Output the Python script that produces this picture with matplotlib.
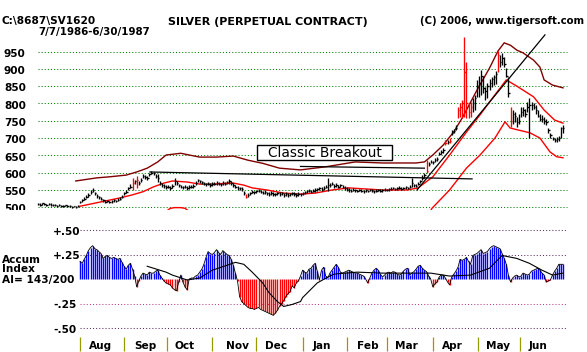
import matplotlib
matplotlib.use("Agg")
import matplotlib.pyplot as plt
from matplotlib.patches import Rectangle

# ---------------- data ----------------
close = [510, 508, 511, 509, 507, 509, 508, 506, 507, 505,
         507, 505, 504, 506, 503, 504, 502, 503, 501, 503,
         515, 520, 525, 530, 535, 545, 550, 540, 532, 530,
         525, 520, 516, 518, 515, 517, 520, 518, 522, 525,
         530, 540, 545, 555, 560, 570, 575, 580, 570, 580,
         590, 588, 585, 595, 600, 598, 590, 585, 570, 565,
         562, 558, 560, 556, 562, 575, 570, 563, 560, 558,
         560, 556, 558, 560, 562, 570, 578, 575, 572, 568,
         566, 568, 565, 567, 568, 570, 568, 566, 570, 568,
         572, 575, 570, 565, 560, 556, 555, 553, 540, 530,
         535, 540, 545, 543, 546, 548, 545, 542, 544, 540,
         538, 541, 539, 537, 540, 538, 540, 536, 538, 535,
         537, 540, 538, 536, 538, 537, 540, 543, 546, 548,
         545, 548, 550, 552, 555, 553, 556, 560, 565, 565,
         568, 562, 565, 560, 563, 560, 556, 553, 550, 548,
         551, 549, 547, 550, 548, 546, 549, 547, 550, 548,
         546, 548, 550, 548, 549, 551, 550, 552, 554, 556,
         553, 555, 557, 554, 556, 558, 556, 560, 570, 563,
         562, 568, 575, 585, 592, 605, 625, 632, 630, 636,
         640, 655, 660, 665, 685, 688, 692, 715, 720, 730,
         780, 790, 800, 891, 800, 775, 790, 800, 815, 850,
         860, 880, 845, 835, 850, 860, 870, 875, 885, 940,
         920, 930, 915, 880, 830, 750, 770, 765, 745, 750,
         775, 780, 770, 790, 795, 795, 790, 780, 765, 755,
         755, 750, 745, 722, 708, 698, 694, 697, 700, 728, 730]
high = [513, 511, 513, 512, 510, 511, 511, 509, 510, 508,
        510, 508, 507, 508, 506, 507, 505, 505, 504, 506,
        519, 524, 530, 536, 540, 550, 557, 545, 537, 534,
        530, 524, 520, 522, 519, 521, 524, 522, 526, 529,
        535, 545, 551, 560, 566, 586, 580, 589, 577, 586,
        595, 593, 590, 600, 604, 603, 595, 596, 576, 570,
        567, 563, 564, 561, 567, 586, 575, 568, 565, 562,
        565, 561, 563, 565, 567, 575, 583, 580, 576, 573,
        571, 573, 570, 572, 573, 575, 573, 571, 575, 573,
        577, 582, 575, 570, 565, 561, 560, 558, 546, 538,
        540, 545, 550, 548, 551, 553, 550, 547, 549, 545,
        543, 546, 544, 542, 545, 543, 545, 541, 543, 540,
        542, 545, 543, 541, 543, 542, 545, 548, 551, 553,
        550, 553, 555, 557, 560, 558, 561, 565, 585, 570,
        573, 567, 570, 565, 568, 565, 561, 558, 555, 553,
        555, 553, 551, 554, 552, 550, 553, 551, 554, 552,
        550, 552, 554, 552, 553, 555, 554, 556, 558, 560,
        557, 559, 561, 558, 560, 562, 560, 564, 585, 567,
        566, 573, 580, 592, 598, 637, 630, 637, 635, 641,
        645, 660, 665, 672, 694, 694, 700, 723, 726, 737,
        790, 800, 810, 992, 920, 800, 805, 815, 824, 868,
        880, 897, 880, 847, 859, 870, 876, 882, 895, 952,
        940, 945, 935, 902, 876, 790, 780, 775, 760, 770,
        790, 790, 785, 805, 815, 805, 800, 795, 780, 770,
        767, 760, 755, 728, 715, 703, 700, 702, 705, 732, 738]
low = [507, 505, 508, 506, 504, 506, 505, 503, 504, 502,
       504, 502, 501, 503, 500, 501, 499, 500, 498, 500,
       511, 515, 520, 526, 530, 538, 543, 535, 527, 525,
       521, 516, 512, 514, 511, 513, 516, 514, 518, 521,
       526, 535, 540, 550, 555, 550, 568, 556, 565, 574,
       584, 582, 579, 589, 595, 592, 584, 574, 564, 560,
       557, 553, 555, 551, 557, 565, 565, 558, 555, 553,
       555, 551, 553, 555, 557, 565, 572, 570, 567, 563,
       561, 563, 560, 562, 563, 565, 563, 561, 565, 563,
       567, 568, 565, 560, 555, 551, 550, 548, 535, 526,
       530, 535, 540, 538, 541, 543, 540, 537, 539, 535,
       533, 536, 534, 532, 535, 533, 535, 531, 533, 530,
       532, 535, 533, 531, 533, 532, 535, 538, 541, 543,
       540, 543, 545, 547, 550, 548, 551, 555, 546, 560,
       563, 557, 560, 555, 558, 555, 551, 548, 545, 543,
       547, 545, 543, 546, 544, 542, 545, 543, 546, 544,
       542, 544, 546, 544, 545, 547, 546, 548, 550, 552,
       549, 551, 553, 550, 552, 554, 552, 556, 558, 559,
       558, 563, 570, 578, 586, 600, 620, 627, 625, 631,
       635, 650, 655, 658, 680, 684, 686, 708, 715, 723,
       758, 760, 758, 760, 758, 758, 760, 775, 781, 819,
       820, 824, 830, 810, 816, 840, 847, 853, 855, 891,
       905, 911, 905, 876, 820, 732, 740, 745, 732, 740,
       760, 765, 760, 775, 700, 780, 785, 770, 760, 750,
       745, 742, 738, 715, 700, 693, 688, 690, 692, 700, 715]
red_days = [45, 47, 99, 185, 194, 196, 200, 201, 202, 203, 204, 205, 206, 219, 225]

ub_days = [18, 28, 34, 42, 47, 52, 57, 61, 68, 72, 77, 85, 93, 100, 107, 115, 125,
           137, 151, 164, 180, 184, 188, 193, 198, 202, 209, 215, 219, 222, 225,
           228, 231, 236, 239, 241, 245, 250]
ub_vals = [576, 585, 588, 593, 602, 613, 631, 651, 656, 651, 645, 645, 648, 636, 627,
           613, 608, 617, 631, 628, 628, 631, 651, 680, 718, 758, 838, 902, 951, 975,
           968, 954, 946, 925, 905, 868, 853, 845]
ma_days = [20, 29.5, 39, 45, 50, 55, 60, 64, 71, 77, 83, 93, 98, 102, 109, 117, 125,
           132, 140, 148, 164, 176, 181, 188, 196, 204, 210.5, 215, 223, 228, 236,
           241, 246, 250]
ma_vals = [503, 515, 527, 536, 545, 559, 570, 576, 573, 567, 567, 570, 564, 556, 550,
           541, 538, 541, 550, 556, 550, 550, 556, 588, 651, 717, 767, 804, 868, 850,
           819, 781, 752, 743]
lb1_days = [61, 63, 65, 68, 70, 72]
lb1_vals = [488, 497, 499, 499, 497, 488]
lb2_days = [186, 187.6, 196, 204, 210.5, 217.6, 222.4, 224.8, 234.3, 239, 243.8, 247, 250]
lb2_vals = [480, 497, 550, 613, 651, 700, 747, 729, 715, 700, 660, 646, 643]
lineA_days = [53.3, 206.7]
lineA_vals = [602, 582]
lineB_days = [125, 184]
lineB_vals = [618, 613]
trend_days = [180.5, 241.4]
trend_vals = [550, 998]

accum_start = 20
accum = [0.18, 0.16, 0.20, 0.24, 0.29, 0.32, 0.34, 0.31, 0.30, 0.28,
         0.26, 0.21, 0.23, 0.24, 0.22, 0.21, 0.22, 0.21, 0.20, 0.21,
         0.17, 0.13, 0.10, 0.14, 0.16, 0.10, 0.03, -0.08, -0.02, 0.03,
         0.06, 0.05, 0.04, 0.07, 0.06, 0.06, 0.08, 0.09, 0.04, 0.01,
         -0.02, -0.04, -0.05, -0.06, -0.09, -0.11, -0.12, -0.03, 0.04, -0.03,
         -0.08, -0.11, 0.00, 0.01, 0.01, 0.03, 0.04, 0.07, 0.10, 0.15,
         0.22, 0.28, 0.26, 0.25, 0.27, 0.30, 0.27, 0.25, 0.29, 0.27,
         0.25, 0.24, 0.20, 0.14, 0.06, -0.02, -0.18, -0.23, -0.25, -0.27,
         -0.29, -0.30, -0.30, -0.31, -0.30, -0.29, -0.31, -0.32, -0.33, -0.34,
         -0.35, -0.36, -0.37, -0.35, -0.32, -0.28, -0.25, -0.22, -0.18, -0.15,
         -0.13, -0.07, -0.09, -0.04, -0.02, 0.03, 0.09, 0.07, 0.06, 0.10,
         0.11, 0.14, 0.16, 0.08, -0.01, 0.09, 0.12, 0.03, 0.01, 0.06,
         0.09, 0.12, 0.15, 0.12, 0.07, 0.06, 0.07, 0.08, 0.09, 0.08,
         0.07, 0.06, 0.06, 0.05, 0.04, 0.03, 0.00, -0.04, 0.01, 0.06,
         0.09, 0.11, 0.09, 0.05, 0.02, 0.04, 0.06, 0.07, 0.06, 0.075,
         0.07, 0.05, 0.04, 0.05, 0.08, 0.10, 0.11, 0.04, 0.06, 0.075,
         0.10, 0.13, 0.14, 0.11, 0.09, 0.075, 0.03, 0.00, -0.08, -0.05,
         -0.03, 0.02, 0.04, 0.04, 0.01, -0.03, -0.06, 0.02, 0.05, 0.08,
         0.12, 0.20, 0.19, 0.20, 0.22, 0.18, 0.15, 0.24, 0.25, 0.26,
         0.28, 0.30, 0.26, 0.27, 0.28, 0.31, 0.33, 0.34, 0.33, 0.32,
         0.31, 0.26, 0.21, 0.15, 0.04, -0.03, 0.01, 0.03, 0.04, 0.02,
         0.03, 0.06, 0.05, 0.04, 0.05, 0.08, 0.09, 0.10, 0.11, 0.09,
         0.06, 0.04, -0.03, -0.02, -0.01, 0.04, 0.08, 0.11, 0.15, 0.15, 0.15]
acma_days = [52, 61, 64, 71, 77, 83, 90, 94, 98, 102, 107, 110, 114, 117, 121, 125, 126,
             133, 138, 141, 152, 164, 187, 196, 206, 215, 221, 228, 234, 240, 245, 250]
acma_vals = [0.13, 0.07, 0.04, -0.01, 0.01, 0.09, 0.14, 0.17, 0.15, 0.07, -0.04, -0.14,
             -0.23, -0.28, -0.26, -0.23, -0.19, -0.04, 0.02, 0.05, 0.07, 0.06, 0.06, 0.03,
             0.04, 0.11, 0.24, 0.21, 0.16, 0.09, 0.04, 0.06]

price_ticks = [950, 900, 850, 800, 750, 700, 650, 600, 550, 500]
ai_ticks = [0.50, 0.25, -0.25, -0.50]
ai_labels = ['+.50', '+.25', '-.25', '-.50']
months = ['Aug', 'Sep', 'Oct', 'Nov', 'Dec', 'Jan', 'Feb', 'Mar', 'Apr', 'May', 'Jun']
month_tick_days = [20, 41, 61.4, 83, 104, 126, 147, 166, 188, 209.5, 229.5]
month_label_days = [29.8, 51, 69.8, 95, 113.3, 135, 157, 175.5, 197.4, 219.3, 238.3]

# ---------------- layout helpers ----------------
W, H = 587, 352
X0, DX = 38.0, 2.1          # pixel of day 0, pixels per trading day


def day_of(px):
    return (px - X0) / DX


def price_at(py):
    return 950 - (py - 51.5) / 0.3462


def ai_at(py):
    return (279 - py) / 98.0


BOLD = dict(family='DejaVu Sans', weight='bold', color='black')

fig = plt.figure(figsize=(W / 100, H / 100), dpi=100)
fig.patch.set_facecolor('white')


def ftext(px, py, s, size=7.6, **kw):
    d = dict(BOLD)
    d.update(kw)
    fig.text(px / W, 1 - py / H, s, fontsize=size, va='baseline', **d)


# ---------------- top price panel ----------------
ax1 = fig.add_axes([0, 1 - 210 / H, 1, (210 - 32) / H])
ax1.set_xlim(day_of(0), day_of(W))
ax1.set_ylim(price_at(210), price_at(32))
ax1.axis('off')

ax1.hlines(price_ticks, 0, day_of(567), colors='#008000', linestyles=(0, (1, 2)), lw=0.75)
for p in price_ticks:
    ax1.text(day_of(4), p - 15, str(p), fontsize=7.6, va='baseline', ha='left',
             clip_on=True, **BOLD)

ax1.plot(lb1_days, lb1_vals, color='#ff0000', lw=1.0)
ax1.plot(lb2_days, lb2_vals, color='#ff0000', lw=1.0)
ax1.plot(ub_days, ub_vals, color='#800000', lw=1.0)
ax1.plot(ma_days, ma_vals, color='#ff0000', lw=1.0)
ax1.plot(lineA_days, lineA_vals, color='black', lw=0.9)
ax1.plot(lineB_days, lineB_vals, color='black', lw=0.9)
ax1.plot(trend_days, trend_vals, color='black', lw=0.9)

days = list(range(len(close)))
cols = ['#ff0000' if d in red_days else 'black' for d in days]
ax1.vlines(days, low, high, colors=cols, lw=0.95)
ax1.hlines(close, [d for d in days], [d + 0.7 for d in days], colors=cols, lw=0.95)

# annotation box
bx0, bx1 = day_of(257), day_of(392)
by0, by1 = price_at(160), price_at(145)
ax1.add_patch(Rectangle((bx0, by0), bx1 - bx0, by1 - by0, facecolor='white',
                        edgecolor='black', lw=1.0, zorder=5))
ax1.text((bx0 + bx1) / 2, price_at(157.3), 'Classic Breakout', ha='center', va='baseline',
         fontsize=9.9, family='DejaVu Sans', color='black', zorder=6)

# ---------------- accumulation panel ----------------
ax2 = fig.add_axes([0, 1 - 337 / H, 1, (337 - 215) / H])
ax2.set_xlim(day_of(0), day_of(W))
ax2.set_ylim(ai_at(337), ai_at(215))
ax2.axis('off')

grid_cols = ['#603060', '#603060', '#c04080', '#603060']
for v, c in zip(ai_ticks, grid_cols):
    ax2.hlines(v, day_of(80), day_of(567), colors=c, linestyles=(0, (1, 2)), lw=0.75)
for v, s in zip(ai_ticks, ai_labels):
    ax2.text(day_of(53), v - 4.6 / 98, s, fontsize=7.6, ha='left', va='baseline', **BOLD)

adays = [accum_start + i for i in range(len(accum))]
acols = ['#0000ff' if v >= 0 else '#ff0000' for v in accum]
ax2.vlines(adays, 0, accum, colors=acols, lw=1.0)
ax2.plot(adays, accum, color='black', lw=0.6)
ax2.plot(acma_days, acma_vals, color='black', lw=0.8)

ftext(2, 263.3, 'Accum')
ftext(2, 272.3, 'Index')
ftext(2, 283.3, 'AI= 143/200')

# ---------------- month strip ----------------
ax3 = fig.add_axes([0, 0, 1, 16 / H])
ax3.set_xlim(day_of(0), day_of(W))
ax3.set_ylim(352, 336)
ax3.axis('off')
ax3.vlines(month_tick_days, 337, 351, colors='#999900', lw=0.9)
for d, m in zip(month_label_days, months):
    ax3.text(d, 349.3, m, ha='center', va='baseline', fontsize=7.6, **BOLD)

# ---------------- titles ----------------
ftext(2, 24, 'C:\\8687\\SV1620')
ftext(38, 35.5, '7/7/1986-6/30/1987', size=7.4)
ftext(168, 25, 'SILVER (PERPETUAL CONTRACT)', size=8.0)
ftext(420, 24, '(C) 2006, www.tigersoft.com', size=7.3)

fig.savefig('out.png', dpi=100, facecolor='white')
